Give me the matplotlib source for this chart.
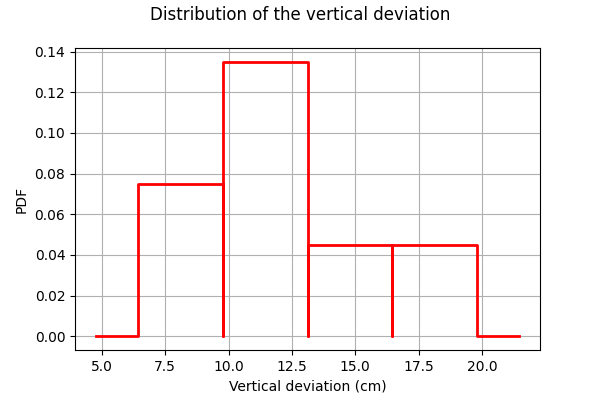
import numpy as np
import matplotlib.pyplot as plt

# histogram bin edges and heights (PDF)
edges = [6.45, 9.78, 13.12, 16.45, 19.78]
heights = [0.075, 0.135, 0.045, 0.045]
x_start = 4.78
x_end = 21.45

# build the outline: each bar drawn as a rectangle going back down to 0
xs = [x_start, edges[0]]
ys = [0, 0]
for i, h in enumerate(heights):
    xs += [edges[i], edges[i + 1], edges[i + 1]]
    ys += [h, h, 0]
xs += [x_end]
ys += [0]

fig, ax = plt.subplots(figsize=(6, 4), dpi=100)
fig.subplots_adjust(bottom=0.125, top=0.88)
ax.plot(xs, ys, color='red', linewidth=2)

fig.suptitle('Distribution of the vertical deviation', y=0.985)
ax.set_xlabel('Vertical deviation (cm)')
ax.set_ylabel('PDF')
ax.grid(True)

fig.savefig('out.png')
